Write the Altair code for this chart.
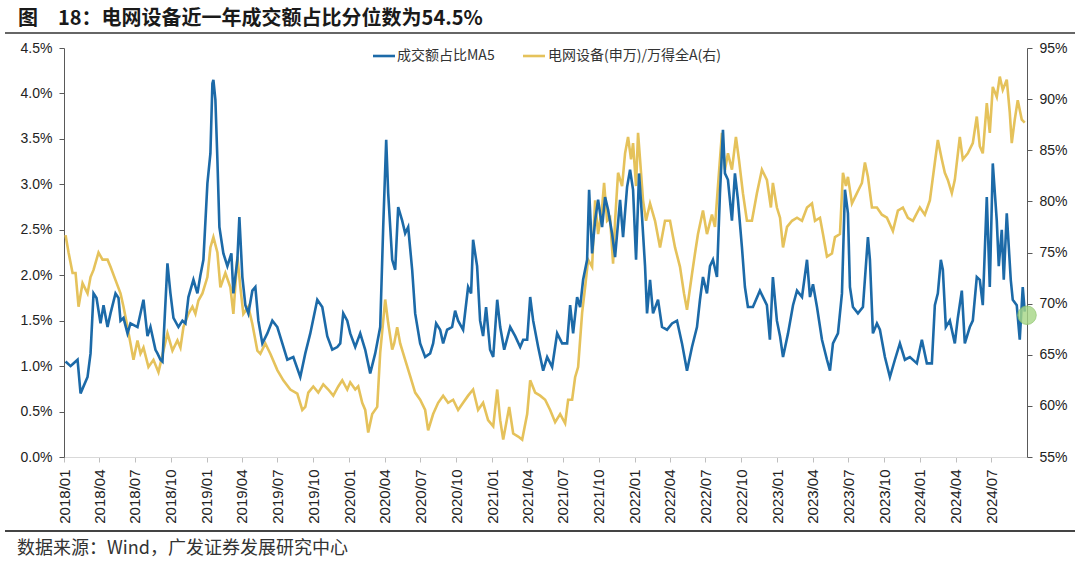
import altair as alt
import pandas as pd

# ---- data (decimal years, values in %) ----
blue_t = [
    2018.011, 2018.046, 2018.060, 2018.095, 2018.116, 2018.165, 2018.186, 2018.207, 2018.228, 2018.256,
    2018.277, 2018.305, 2018.326, 2018.361, 2018.382, 2018.396, 2018.417, 2018.445, 2018.466, 2018.515,
    2018.557, 2018.585, 2018.606, 2018.641, 2018.655, 2018.676, 2018.690, 2018.725, 2018.746, 2018.767,
    2018.802, 2018.830, 2018.851, 2018.872, 2018.907, 2018.935, 2018.956, 2018.977,
    2019.005, 2019.026, 2019.040, 2019.047, 2019.061, 2019.075, 2019.089, 2019.117, 2019.145, 2019.173,
    2019.187, 2019.215, 2019.229, 2019.250, 2019.271, 2019.292, 2019.320, 2019.341, 2019.362, 2019.390,
    2019.425, 2019.460, 2019.495, 2019.530, 2019.565, 2019.607, 2019.656, 2019.691, 2019.726, 2019.775,
    2019.810, 2019.845, 2019.880, 2019.915, 2019.936, 2019.957, 2019.985,
    2020.006, 2020.041, 2020.076, 2020.111, 2020.146, 2020.181, 2020.216, 2020.237, 2020.258, 2020.272,
    2020.300, 2020.321, 2020.342, 2020.370, 2020.391, 2020.412, 2020.440, 2020.461, 2020.496, 2020.531,
    2020.566, 2020.587, 2020.608, 2020.636, 2020.657, 2020.685, 2020.720, 2020.741, 2020.762, 2020.797,
    2020.832, 2020.853, 2020.867, 2020.895, 2020.916, 2020.937, 2020.958, 2020.986,
    2021.008, 2021.036, 2021.057, 2021.085, 2021.127, 2021.162, 2021.197, 2021.218, 2021.246, 2021.267,
    2021.288, 2021.323, 2021.358, 2021.386, 2021.421, 2021.456, 2021.491, 2021.526, 2021.547, 2021.568,
    2021.596, 2021.617, 2021.638, 2021.666, 2021.680, 2021.701, 2021.722, 2021.743, 2021.771, 2021.792,
    2021.813, 2021.841, 2021.862, 2021.897, 2021.918, 2021.946, 2021.967, 2021.988,
    2022.009, 2022.030, 2022.051, 2022.072, 2022.086, 2022.107, 2022.128, 2022.163, 2022.191, 2022.226,
    2022.261, 2022.296, 2022.331, 2022.366, 2022.401, 2022.436, 2022.457, 2022.478, 2022.506, 2022.527,
    2022.548, 2022.576, 2022.597, 2022.618, 2022.632, 2022.653, 2022.681, 2022.702, 2022.723, 2022.751,
    2022.772, 2022.793, 2022.828, 2022.877, 2022.926, 2022.947, 2022.968, 2022.996,
    2023.018, 2023.039, 2023.074, 2023.109, 2023.137, 2023.172, 2023.207, 2023.228, 2023.249, 2023.277,
    2023.312, 2023.347, 2023.368, 2023.389, 2023.424, 2023.452, 2023.473, 2023.494, 2023.508, 2023.529,
    2023.564, 2023.599, 2023.634, 2023.648, 2023.669, 2023.697, 2023.718, 2023.753, 2023.788, 2023.823,
    2023.858, 2023.893, 2023.928, 2023.977,
    2024.012, 2024.047, 2024.082, 2024.103, 2024.124, 2024.145, 2024.159, 2024.180, 2024.208, 2024.243,
    2024.264, 2024.292, 2024.313, 2024.348, 2024.369, 2024.397, 2024.418, 2024.439, 2024.467, 2024.488,
    2024.509, 2024.537, 2024.551, 2024.572, 2024.586, 2024.607, 2024.635, 2024.649, 2024.677, 2024.698,
    2024.719, 2024.733,
]
blue_v = [
    1.05, 1.00, 1.02, 1.07, 0.70, 0.88, 1.14, 1.80, 1.75, 1.47,
    1.67, 1.43, 1.58, 1.80, 1.75, 1.50, 1.53, 1.36, 1.47, 1.43,
    1.73, 1.33, 1.43, 1.18, 1.14, 1.07, 1.05, 2.13, 1.80, 1.53,
    1.43, 1.50, 1.47, 1.76, 1.95, 1.80, 2.00, 2.17,
    3.01, 3.34, 4.11, 4.15, 3.93, 3.27, 2.53, 2.24, 2.10, 2.24,
    1.80, 2.17, 2.64, 1.98, 1.67, 1.58, 1.83, 1.87, 1.50, 1.25,
    1.36, 1.50, 1.43, 1.25, 1.07, 1.10, 0.88, 1.14, 1.36, 1.73,
    1.65, 1.33, 1.18, 1.21, 1.25, 1.58, 1.50,
    1.36, 1.21, 1.36, 1.18, 0.92, 1.14, 1.43, 2.53, 3.49, 2.90,
    2.17, 2.06, 2.75, 2.60, 2.46, 2.53, 2.06, 1.58, 1.25, 1.10,
    1.14, 1.25, 1.47, 1.40, 1.25, 1.40, 1.43, 1.61, 1.50, 1.40,
    1.87, 1.80, 2.39, 2.10, 1.50, 1.33, 1.65, 1.18,
    1.10, 1.73, 1.43, 1.18, 1.43, 1.33, 1.21, 1.29, 1.29, 1.76,
    1.50, 1.21, 0.95, 1.10, 0.99, 1.36, 1.25, 1.25, 1.67, 1.36,
    1.76, 1.65, 1.95, 2.17, 2.94, 2.24, 2.60, 2.83, 2.53, 2.86,
    2.72, 2.46, 2.20, 2.83, 2.42, 2.97, 3.16, 2.94,
    2.17, 3.12, 2.64, 2.10, 1.58, 1.95, 1.58, 1.73, 1.43, 1.40,
    1.47, 1.50, 1.25, 0.95, 1.21, 1.43, 1.73, 1.98, 1.80, 2.10,
    2.17, 1.98, 2.90, 3.60, 3.12, 3.05, 2.60, 3.12, 2.83, 2.31,
    1.87, 1.65, 1.65, 1.83, 1.67, 1.29, 1.98, 1.50,
    1.33, 1.10, 1.36, 1.67, 1.83, 1.76, 2.17, 1.76, 1.90, 1.65,
    1.29, 1.07, 0.95, 1.25, 1.36, 1.80, 2.94, 2.68, 1.87, 1.65,
    1.58, 1.65, 2.42, 2.17, 1.36, 1.47, 1.40, 1.10, 0.88, 1.07,
    1.25, 1.07, 1.10, 1.03,
    1.29, 1.03, 1.03, 1.67, 1.80, 2.17, 2.06, 1.43, 1.50, 1.25,
    1.53, 1.83, 1.25, 1.43, 1.50, 1.98, 1.95, 1.67, 2.86, 1.87,
    3.23, 2.60, 2.10, 2.50, 1.95, 2.68, 1.95, 1.73, 1.67, 1.29,
    1.87, 1.60,
]

yellow_t = [
    2018.011, 2018.032, 2018.060, 2018.081, 2018.102, 2018.130, 2018.165, 2018.186, 2018.207, 2018.242,
    2018.270, 2018.305, 2018.326, 2018.361, 2018.396, 2018.417, 2018.445, 2018.466, 2018.487, 2018.515,
    2018.536, 2018.557, 2018.592, 2018.627, 2018.662, 2018.697, 2018.725, 2018.760, 2018.795, 2018.816,
    2018.837, 2018.872, 2018.900, 2018.921, 2018.942, 2018.970,
    2019.005, 2019.026, 2019.047, 2019.075, 2019.096, 2019.131, 2019.166, 2019.187, 2019.215, 2019.236,
    2019.257, 2019.292, 2019.320, 2019.355, 2019.376, 2019.411, 2019.446, 2019.495, 2019.537, 2019.586,
    2019.635, 2019.670, 2019.691, 2019.712, 2019.747, 2019.782, 2019.817, 2019.852, 2019.887, 2019.922,
    2019.950, 2019.985,
    2020.006, 2020.041, 2020.062, 2020.090, 2020.111, 2020.132, 2020.160, 2020.195, 2020.216, 2020.251,
    2020.272, 2020.300, 2020.314, 2020.335, 2020.356, 2020.391, 2020.426, 2020.461, 2020.496, 2020.531,
    2020.552, 2020.587, 2020.622, 2020.657, 2020.692, 2020.727, 2020.762, 2020.797, 2020.832, 2020.867,
    2020.902, 2020.937, 2020.972,
    2021.008, 2021.036, 2021.057, 2021.078, 2021.120, 2021.148, 2021.183, 2021.211, 2021.246, 2021.267,
    2021.302, 2021.337, 2021.372, 2021.407, 2021.442, 2021.477, 2021.512, 2021.533, 2021.561, 2021.582,
    2021.603, 2021.631, 2021.652, 2021.673, 2021.701, 2021.722, 2021.743, 2021.771, 2021.785, 2021.806,
    2021.827, 2021.848, 2021.862, 2021.883, 2021.911, 2021.932, 2021.953, 2021.974, 2021.988,
    2022.009, 2022.023, 2022.037, 2022.058, 2022.079, 2022.107, 2022.142, 2022.177, 2022.212, 2022.247,
    2022.282, 2022.317, 2022.345, 2022.366, 2022.401, 2022.422, 2022.443, 2022.478, 2022.506, 2022.541,
    2022.562, 2022.583, 2022.611, 2022.632, 2022.653, 2022.681, 2022.709, 2022.730, 2022.758, 2022.786,
    2022.821, 2022.856, 2022.891, 2022.926, 2022.954, 2022.968, 2022.996,
    2023.018, 2023.039, 2023.067, 2023.102, 2023.137, 2023.172, 2023.207, 2023.242, 2023.263, 2023.298,
    2023.319, 2023.347, 2023.382, 2023.403, 2023.438, 2023.459, 2023.480, 2023.494, 2023.522, 2023.557,
    2023.592, 2023.613, 2023.634, 2023.662, 2023.697, 2023.732, 2023.767, 2023.809, 2023.844, 2023.879,
    2023.914, 2023.949, 2023.998,
    2024.033, 2024.068, 2024.103, 2024.124, 2024.152, 2024.173, 2024.194, 2024.222, 2024.243, 2024.278,
    2024.299, 2024.334, 2024.369, 2024.397, 2024.418, 2024.439, 2024.467, 2024.488, 2024.509, 2024.537,
    2024.558, 2024.579, 2024.607, 2024.628, 2024.642, 2024.663, 2024.684, 2024.712, 2024.733,
]
yellow_v = [
    76.7, 75.0, 73.0, 73.0, 69.7, 72.0, 71.0, 72.6, 73.3, 75.0,
    74.3, 74.3, 73.6, 72.3, 71.0, 69.7, 67.7, 66.1, 64.5, 66.4,
    65.1, 65.7, 63.8, 64.5, 63.3, 65.4, 67.1, 65.4, 66.4, 65.7,
    67.7, 69.0, 69.7, 69.0, 70.3, 71.0,
    72.6, 75.5, 76.5, 75.0, 71.6, 73.0, 71.6, 69.0, 74.6, 71.6,
    69.0, 69.7, 68.0, 65.4, 65.1, 66.1, 65.1, 63.5, 62.5, 61.6,
    61.2, 59.6, 59.9, 61.3, 61.9, 61.3, 62.1, 61.6, 61.0, 61.9,
    62.5, 61.6,
    62.3, 61.6, 61.9, 60.3, 59.6, 57.4, 59.2, 59.9, 65.2, 70.4,
    68.1, 65.5, 66.1, 67.7, 66.1, 64.5, 62.9, 61.3, 60.6, 59.6,
    57.6, 59.2, 60.3, 61.0, 60.3, 60.6, 59.6, 60.3, 61.0, 61.6,
    59.6, 60.3, 58.6,
    58.0, 61.6, 58.6, 56.7, 59.9, 57.3, 57.0, 56.7, 59.2, 62.5,
    61.3, 61.0, 60.6, 59.6, 58.4, 59.2, 58.3, 60.6, 60.6, 62.8,
    63.8, 69.1, 71.6, 74.3, 73.6, 80.1, 76.8, 79.4, 81.8, 78.1,
    78.4, 73.9, 78.1, 82.8, 81.5, 84.7, 86.3, 84.1, 85.7,
    81.5, 86.7, 84.1, 80.1, 78.1, 79.8, 78.1, 75.5, 78.1, 78.1,
    75.5, 73.6, 71.0, 69.4, 72.9, 74.9, 76.8, 79.1, 76.8, 78.7,
    77.5, 81.5, 86.7, 83.1, 84.7, 83.1, 86.3, 84.1, 80.8, 78.1,
    78.1, 80.8, 83.1, 82.1, 79.4, 81.8, 79.4,
    78.4, 75.5, 77.5, 78.1, 78.4, 78.1, 79.4, 79.8, 78.1, 78.4,
    76.8, 74.6, 74.9, 76.5, 76.8, 82.8, 81.5, 82.4, 79.8, 80.8,
    81.8, 83.8, 82.4, 79.4, 79.4, 78.7, 78.4, 77.1, 79.1, 79.4,
    78.4, 78.1, 79.4,
    78.7, 80.1, 83.8, 86.0, 84.1, 82.8, 82.1, 80.8, 82.1, 86.3,
    84.1, 84.7, 85.7, 88.3, 85.4, 84.7, 89.6, 86.7, 91.2, 90.2,
    92.2, 90.9, 91.9, 88.7, 85.7, 88.0, 89.9, 88.0, 87.7,
]

marker_date = ["2024-10-01T00:00:00"]
marker_value = [1.56]

left_ticks = [0.0, 0.5, 1.0, 1.5, 2.0, 2.5, 3.0, 3.5, 4.0, 4.5]
right_ticks = [55, 60, 65, 70, 75, 80, 85, 90, 95]

title_text = "图\u300018：电网设备近一年成交额占比分位数为54.5%"
source_text = "数据来源：Wind，广发证券发展研究中心"
legend_blue = "成交额占比MA5"
legend_yellow = "电网设备(申万)/万得全A(右)"

BLUE = "#1C6AA8"
YELLOW = "#E5C25B"


def to_dates(ts):
    base = pd.Timestamp("2018-01-01")
    return [base + pd.to_timedelta((t - 2018.0) * 365.25, unit="D") for t in ts]


blue_df = pd.DataFrame({"date": to_dates(blue_t), "v": blue_v})
yellow_df = pd.DataFrame({"date": to_dates(yellow_t), "v": yellow_v})
marker_df = pd.DataFrame({"date": marker_date, "v": marker_value})
one = pd.DataFrame({"a": [0]})

x_domain = [alt.DateTime(year=2018, month=1, date=1), alt.DateTime(year=2024, month=10, date=1)]
x_ticks = [alt.DateTime(year=y, month=m, date=1)
           for y in range(2018, 2025) for m in (1, 4, 7, 10)
           if not (y == 2024 and m == 10)]

x_enc = alt.X(
    "date:T",
    scale=alt.Scale(domain=x_domain),
    axis=alt.Axis(
        title="", values=x_ticks, format="%Y/%m", labelAngle=-90,
        labelAlign="right", labelBaseline="middle", labelFontSize=15,
        labelFont="Liberation Sans", labelColor="#222222", labelPadding=7,
        domainColor="#D9D9D9", tickColor="#BFBFBF", tickSize=5, grid=False,
        labelOverlap=False, labelFlush=False,
    ),
)

yellow_line = alt.Chart(yellow_df).mark_line(color=YELLOW, strokeWidth=2.6).encode(
    x=x_enc,
    y=alt.Y(
        "v:Q",
        scale=alt.Scale(domain=[55, 95], nice=False, zero=False),
        axis=alt.Axis(
            title="", orient="right", values=right_ticks,
            labelExpr="format(datum.value, '.0f') + '%'",
            labelFontSize=14, labelFont="Liberation Sans", labelColor="#222222",
            domainColor="#595959", tickColor="#595959", tickSize=5, labelPadding=7,
            grid=False,
        ),
    ),
)

blue_line = alt.Chart(blue_df).mark_line(color=BLUE, strokeWidth=2.6).encode(
    x=x_enc,
    y=alt.Y(
        "v:Q",
        scale=alt.Scale(domain=[0, 4.5], nice=False),
        axis=alt.Axis(
            title="", orient="left", values=left_ticks,
            labelExpr="format(datum.value, '.1f') + '%'",
            labelFontSize=14, labelFont="Liberation Sans", labelColor="#222222",
            domainColor="#595959", tickColor="#595959", tickSize=5, labelPadding=7,
            grid=False,
        ),
    ),
)

marker = alt.Chart(marker_df).mark_circle(
    size=340, color="#A6D785", opacity=0.8, stroke="#8CC46A", strokeWidth=1
).encode(
    x=x_enc,
    y=alt.Y("v:Q", scale=alt.Scale(domain=[0, 4.5], nice=False), axis=None),
)

FONT_CJK = "Noto Sans CJK SC"

title = alt.Chart(one).mark_text(
    align="left", baseline="middle", font=FONT_CJK, fontSize=20, fontWeight="bold", color="#1a1a1a"
).encode(x=alt.value(-46), y=alt.value(-29), text=alt.value(title_text))

title_rule = alt.Chart(one).mark_rule(color="#333333", strokeWidth=1.5).encode(
    x=alt.value(-59), x2=alt.value(1011), y=alt.value(-15)
)

footer_rule = alt.Chart(one).mark_rule(color="#444444", strokeWidth=2).encode(
    x=alt.value(-59), x2=alt.value(1011), y=alt.value(483)
)

source = alt.Chart(one).mark_text(
    align="left", baseline="middle", font=FONT_CJK, fontSize=18, color="#333333"
).encode(x=alt.value(-47), y=alt.value(501), text=alt.value(source_text))

leg_blue_rule = alt.Chart(one).mark_rule(color=BLUE, strokeWidth=2.6).encode(
    x=alt.value(309), x2=alt.value(331), y=alt.value(8)
)
leg_blue_text = alt.Chart(one).mark_text(
    align="left", baseline="middle", font=FONT_CJK, fontSize=14, color="#333333"
).encode(x=alt.value(333), y=alt.value(8), text=alt.value(legend_blue))

leg_yellow_rule = alt.Chart(one).mark_rule(color=YELLOW, strokeWidth=2.6).encode(
    x=alt.value(459), x2=alt.value(481), y=alt.value(8)
)
leg_yellow_text = alt.Chart(one).mark_text(
    align="left", baseline="middle", font=FONT_CJK, fontSize=14, color="#333333"
).encode(x=alt.value(484), y=alt.value(8), text=alt.value(legend_yellow))

chart = alt.layer(
    yellow_line, blue_line, marker,
    title, title_rule, footer_rule, source,
    leg_blue_rule, leg_blue_text, leg_yellow_rule, leg_yellow_text,
).resolve_scale(y="independent").properties(
    width=963, height=409,
    autosize=alt.AutoSizeParams(type="none"),
    padding={"left": 64, "top": 48, "right": 53, "bottom": 104},
    background="white",
).configure_view(stroke=None)

chart.save("out.html", embed_options={"renderer": "svg", "actions": False})
